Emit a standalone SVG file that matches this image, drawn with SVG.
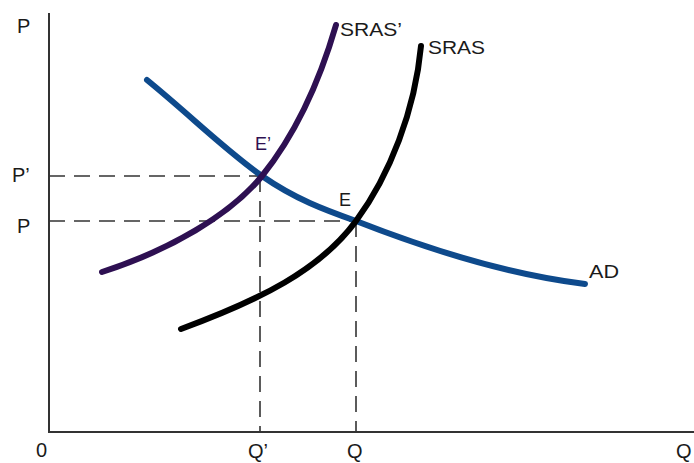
<svg xmlns="http://www.w3.org/2000/svg" width="694" height="463" viewBox="0 0 694 463">
<style>
text{font-family:"Liberation Sans",Arial,sans-serif;font-size:20px;fill:#1a1a1a}
.lbl{font-size:18px}
.axis{stroke:#333;stroke-width:2;fill:none}
.dash{stroke:#333;stroke-width:1.6;stroke-dasharray:16,9;fill:none}
.curve{fill:none;stroke-width:6;stroke-linecap:round}
</style>
<rect width="694" height="463" fill="#fff"/>
<g id="axes">
<path class="axis" d="M49,13 V432 H694"/>
<text x="17" y="33">P</text>
<text x="36" y="457">0</text>
<text x="676" y="458">Q</text>
</g>
<g id="connectors">
<path class="dash" d="M49,176 H262"/>
<path class="dash" d="M49,221 H356"/>
<path class="dash" d="M260,176 V432"/>
<path class="dash" d="M356,221 V432"/>
</g>
<g id="labels">
<text x="12" y="182">P’</text>
<text x="17" y="233">P</text>
<text x="248" y="458">Q’</text>
<text x="347" y="458">Q</text>
</g>
<g id="AD">
<path class="curve" stroke="#0e4a8c" d="M147,80 C190,115 225,150 262,176 C295,199 325,210 356,221 C430,250 510,275 585,284"/>
<text class="lbl" x="589" y="278" textLength="30" lengthAdjust="spacingAndGlyphs">AD</text>
</g>
<g id="SRAS2">
<path class="curve" stroke="#2e1052" d="M102,272 C170,250 230,215 262,176 C295,135 320,80 336,25"/>
<text class="lbl" x="340" y="36" textLength="62" lengthAdjust="spacingAndGlyphs">SRAS’</text>
<text class="lbl" x="255" y="150" style="fill:#2e1052">E’</text>
</g>
<g id="SRAS">
<path class="curve" stroke="#000" d="M181,329 C260,300 320,270 356,221 C390,175 415,110 421,46"/>
<text class="lbl" x="428" y="54" textLength="57" lengthAdjust="spacingAndGlyphs">SRAS</text>
<text class="lbl" x="339" y="206">E</text>
</g>
</svg>
